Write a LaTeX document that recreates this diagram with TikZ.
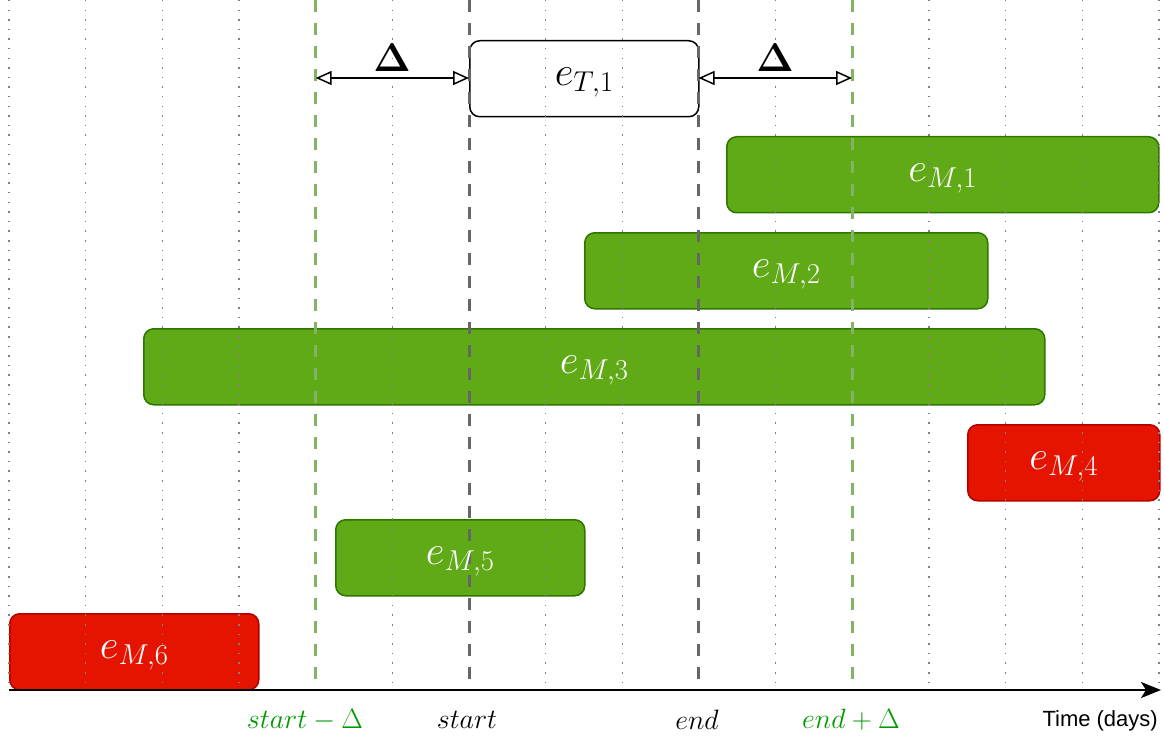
\RequirePackage{fix-cm}
\documentclass[tikz,border=0pt]{standalone}
\usepackage{amsmath,bm}
\usepackage[no-math]{fontspec}
\newfontfamily\arialf{Liberation Sans}
\usetikzlibrary{arrows.meta}
\definecolor{gfill}{HTML}{60A917}
\definecolor{gline}{HTML}{2D7600}
\definecolor{rfill}{HTML}{E51400}
\definecolor{rline}{HTML}{B20000}
\definecolor{gdash}{HTML}{82B366}
\definecolor{kdash}{HTML}{666666}
\definecolor{glabel}{HTML}{009900}
\definecolor{dotc}{HTML}{808080}
\begin{document}
\begin{tikzpicture}[x=1pt,y=-1pt,
  evbox/.style={rounded corners=10pt, line width=1.5pt, minimum height=76pt, inner sep=0pt, anchor=north west},
  gbox/.style={evbox, fill=gfill, draw=gline},
  rbox/.style={evbox, fill=rfill, draw=rline},
  tbox/.style={evbox, fill=white, draw=black},
  boxlabel/.style={text=white, font=\fontsize{41}{48}\selectfont, inner sep=0pt},
  dotline/.style={dotc, line width=1.5pt, dash pattern=on 1.5pt off 8.1pt},
  gdashline/.style={gdash, line width=3pt, dash pattern=on 12pt off 11pt},
  kdashline/.style={kdash, line width=3pt, dash pattern=on 12pt off 11pt},
  deltaarrow/.style={line width=1.5pt, {Triangle[open,length=16pt,width=14pt]}-{Triangle[open,length=16pt,width=14pt]}},
  deltalabel/.style={font=\fontsize{40}{46}\selectfont, inner sep=0pt},
  ticklabel/.style={font=\fontsize{28}{32}\selectfont, inner sep=0pt},
  axisline/.style={line width=2pt, -{Stealth[length=20pt,width=16pt,inset=5pt]}}
]
\useasboundingbox (0,0) rectangle (1164,738);

% event boxes
\node[tbox, minimum width=229pt] (t1) at (469,40) {};
\node[gbox, minimum width=432pt] (m1) at (726,136) {};
\node[gbox, minimum width=403pt] (m2) at (584,232) {};
\node[gbox, minimum width=901pt] (m3) at (143,328) {};
\node[rbox, minimum width=192pt] (m4) at (967,424) {};
\node[gbox, minimum width=249pt] (m5) at (335,519) {};
\node[rbox, minimum width=249pt] (m6) at (9,613) {};

% dotted grid
\foreach \i in {0,1,2,3,5,7,8,10,12,13,14,15} {
  \draw[dotline] ({9+76.6667*\i},0) -- ({9+76.6667*\i},690);
}

% dashed reference lines
\coordinate (sdt) at (315.7,0); \coordinate (sdb) at (315.7,690);
\coordinate (st) at (469,0);   \coordinate (sb) at (469,690);
\coordinate (et) at (698.5,0); \coordinate (eb) at (698.5,690);
\coordinate (edt) at (852,0);  \coordinate (edb) at (852,690);
\draw[gdashline] (sdt) -- (sdb);
\draw[kdashline] (st) -- (sb);
\draw[kdashline] (et) -- (eb);
\draw[gdashline] (edt) -- (edb);

% delta arrows
\coordinate (a1l) at (315.7,78); \coordinate (a1r) at (469,78);
\coordinate (a2l) at (698.5,78); \coordinate (a2r) at (852,78);
\draw[deltaarrow] (a1l) -- (a1r);
\draw[deltaarrow] (a2l) -- (a2r);
\node[deltalabel] (d1) at (392,58) {$\boldsymbol{\Delta}$};
\node[deltalabel] (d2) at (775,58) {$\boldsymbol{\Delta}$};

% box labels
\node[boxlabel, text=black] (lt1) at ([yshift=-4pt]t1.center) {$e_{T,1}$};
\node[boxlabel] (lm1) at ([yshift=-4pt]m1.center) {$e_{M,1}$};
\node[boxlabel] (lm2) at ([yshift=-4pt]m2.center) {$e_{M,2}$};
\node[boxlabel] (lm3) at ([yshift=-4pt]m3.center) {$e_{M,3}$};
\node[boxlabel] (lm4) at ([yshift=-4pt]m4.center) {$e_{M,4}$};
\node[boxlabel] (lm5) at ([yshift=-4pt]m5.center) {$e_{M,5}$};
\node[boxlabel] (lm6) at ([yshift=-4pt]m6.center) {$e_{M,6}$};

% time axis
\coordinate (ax0) at (9,690); \coordinate (ax1) at (1161,690);
\draw[axisline] (ax0) -- (ax1);

% axis labels
\node[ticklabel, text=glabel] (lsd) at (305,720) {$start-\Delta$};
\node[ticklabel] (ls) at (467,720) {$start$};
\node[ticklabel] (le) at (697,720) {$end$};
\node[ticklabel, text=glabel] (led) at (851,720) {$end+\Delta$};
\node[font=\arialf\fontsize{22}{26}\selectfont, anchor=east, inner sep=0pt] (ltime) at (1158,721) {Time (days)};
\end{tikzpicture}
\end{document}
